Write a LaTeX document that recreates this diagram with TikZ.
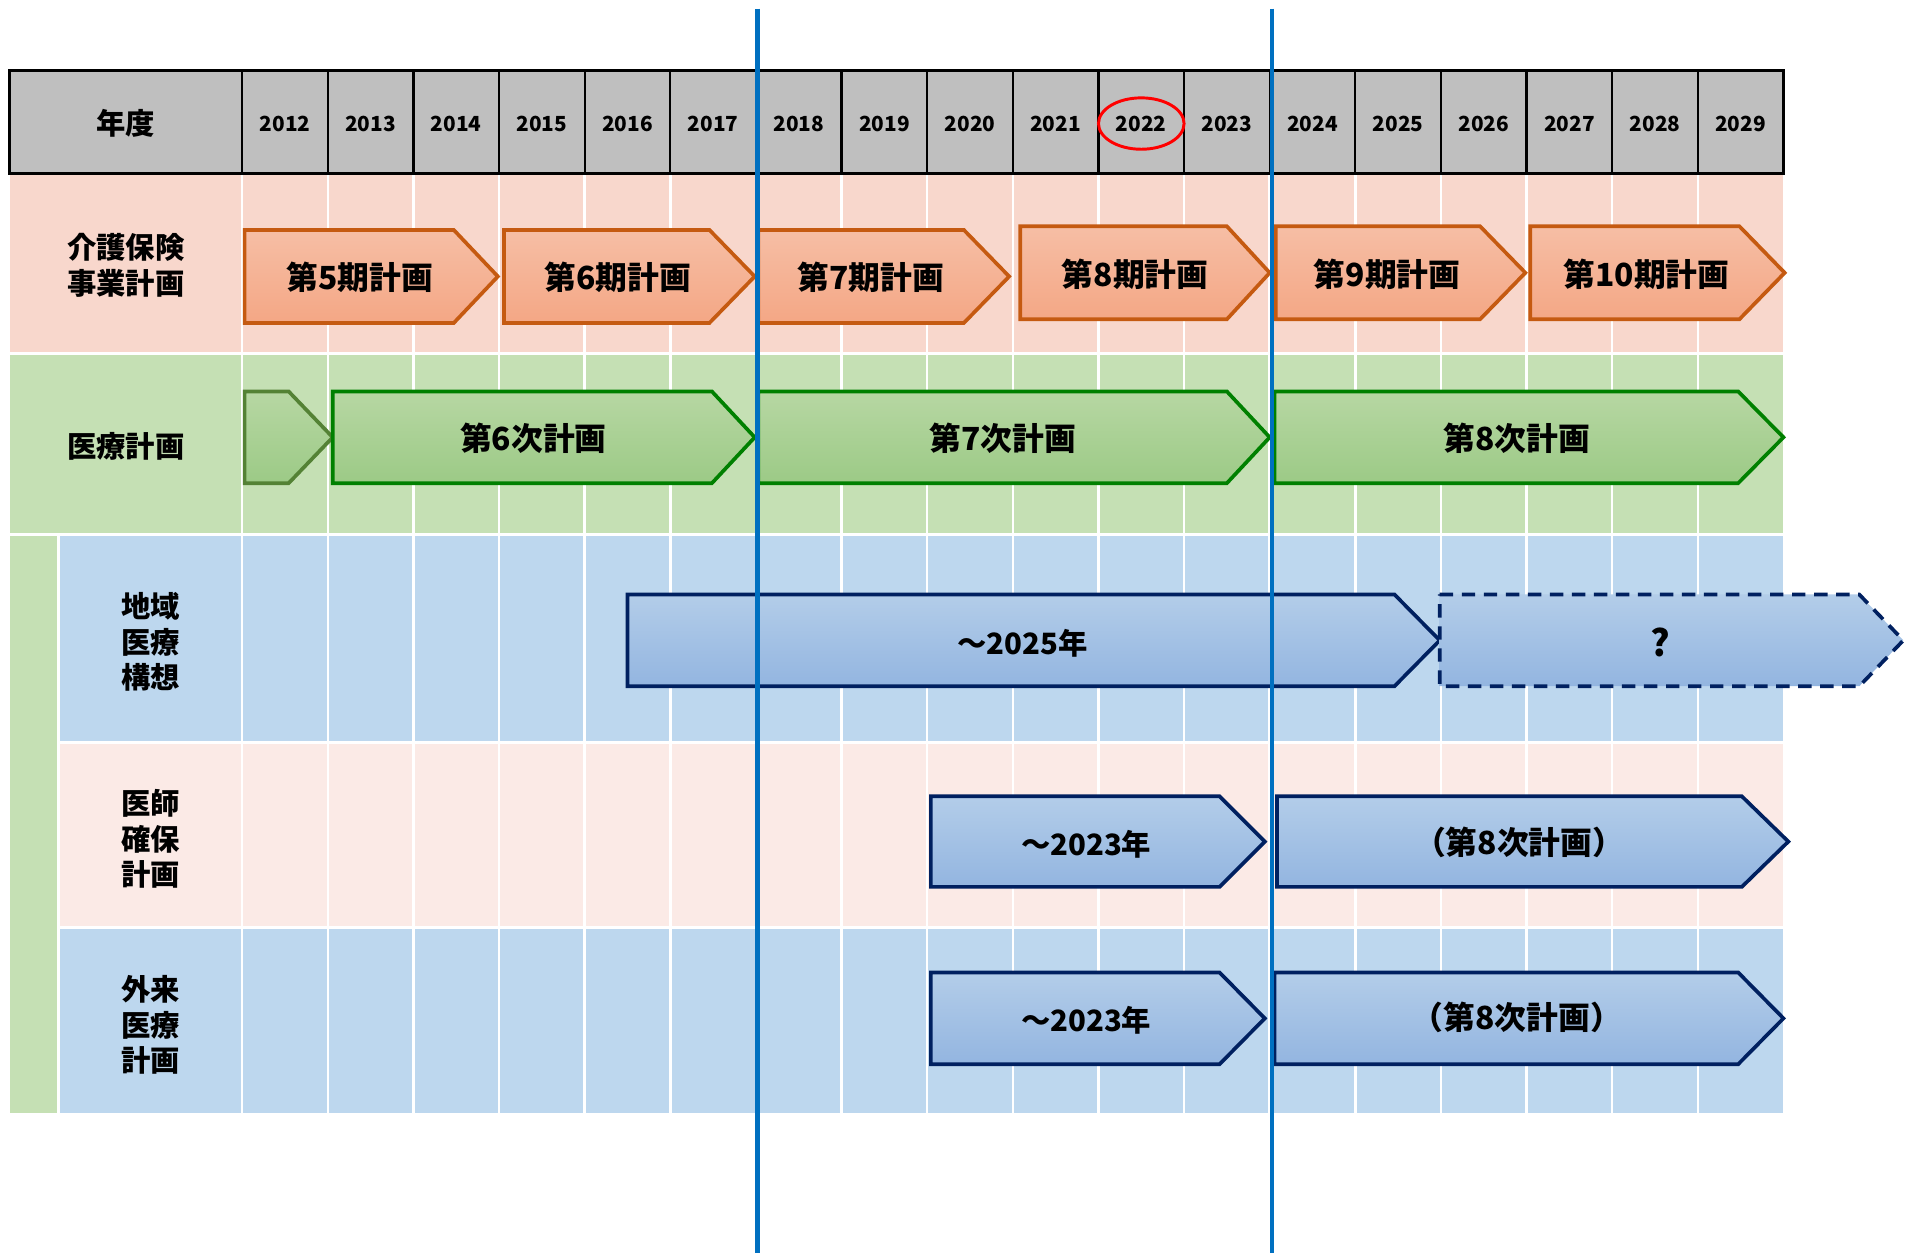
\documentclass[tikz,border=0pt]{standalone}
\usepackage{fontspec}
\setmainfont{Noto Sans CJK JP}
\usetikzlibrary{calc}
\definecolor{hdrgray}{HTML}{BFBFBF}
\definecolor{rowpink}{HTML}{F8D7CC}
\definecolor{rowgreen}{HTML}{C5E0B4}
\definecolor{rowblue}{HTML}{BDD7EE}
\definecolor{rowlpink}{HTML}{FBEAE6}
\definecolor{orgtop}{HTML}{F6BEA5}
\definecolor{orgbot}{HTML}{F4A785}
\definecolor{orgline}{HTML}{C55A11}
\definecolor{grntop}{HTML}{B7D7A3}
\definecolor{grnbot}{HTML}{9CCA86}
\definecolor{grnline}{HTML}{008000}
\definecolor{grnline2}{HTML}{548235}
\definecolor{blutop}{HTML}{B3CDE9}
\definecolor{blubot}{HTML}{93B5E0}
\definecolor{bluline}{HTML}{002060}
\definecolor{vline}{HTML}{0070C0}
\newcommand\penta[6]{\path[#1] (#2,#5) -- (#3,#5) -- (#4,{(#5+#6)/2}) -- (#3,#6) -- (#2,#6) -- cycle;}
\begin{document}
\begin{tikzpicture}[x=0.5pt,y=-0.5pt,
  gridline/.style={white,line width=1pt},
  hdrline/.style={black,line width=0.9pt},
  yearlbl/.style={font=\fontsize{8.5}{10}\selectfont\bfseries},
  rowlbl/.style={font=\fontsize{12}{14.5}\selectfont\bfseries,align=center},
  arrlbl/.style={font=\fontsize{13}{15}\selectfont\bfseries},
  barlbl/.style={font=\fontsize{12}{14}\selectfont\bfseries},
  qlbl/.style={font=\fontsize{15}{17}\selectfont\bfseries},
  orgarrow/.style={draw=orgline,line width=1.5pt,top color=orgtop,bottom color=orgbot},
  grnarrow/.style={draw=grnline,line width=1.5pt,top color=grntop,bottom color=grnbot},
  grnarrowB/.style={draw=grnline2,line width=1.5pt,top color=grntop,bottom color=grnbot},
  bluarrow/.style={draw=bluline,line width=1.5pt,top color=blutop,bottom color=blubot},
  bludash/.style={bluarrow,dash pattern=on 5.5pt off 3.5pt},
  divider/.style={vline,line width=1.9pt}]
\useasboundingbox (0,0) rectangle (1568,1024);
% row backgrounds
\fill[rowpink] (8,142) rectangle (1458,289);
\fill[rowgreen] (8,289) rectangle (1458,437);
\fill[rowgreen] (8,437) rectangle (48,910);
\fill[rowblue] (48,437) rectangle (1458,607);
\fill[rowlpink] (48,607) rectangle (1458,758);
\fill[rowblue] (48,758) rectangle (1458,910);
% white grid
\foreach \i in {0,...,17} \draw[gridline] (198+70*\i,142) -- (198+70*\i,910);
\foreach \yy in {289,437} \draw[gridline,line width=1.2pt] (8,\yy) -- (1458,\yy);
\foreach \yy in {607,758} \draw[gridline,line width=1.2pt] (48,\yy) -- (1458,\yy);
\draw[gridline,line width=1.2pt] (48,437) -- (48,910);
% header
\fill[hdrgray] (8,58) rectangle (1458,142);
\foreach \i in {0,...,17} \draw[hdrline] (198+70*\i,58) -- (198+70*\i,142);
\draw[black,line width=1.2pt] (8,58) rectangle (1458,142);
\node[rowlbl] (nendo) at (103,101) {年度};
\foreach \i in {0,...,17} {
  \pgfmathtruncatemacro\yr{2012+\i}
  \node[yearlbl] (yr\i) at (233+70*\i,101) {\yr};
}
\draw[red,line width=1.2pt] (933,101) ellipse [x radius=35, y radius=21];
% row labels
\node[rowlbl] (kaigo) at (103,217) {介護保険\\事業計画};
\node[rowlbl] (iryo) at (103,365) {医療計画};
\node[rowlbl] (chiiki) at (123,525) {地域\\医療\\構想};
\node[rowlbl] (ishi) at (123,686) {医師\\確保\\計画};
\node[rowlbl] (gairai) at (123,838) {外来\\医療\\計画};
% row 1 arrows
\penta{orgarrow}{200}{371}{407}{188}{264}
\penta{orgarrow}{412}{580}{617}{188}{264}
\penta{orgarrow}{620}{788}{825}{188}{264}
\penta{orgarrow}{834}{1003}{1038}{185}{261}
\penta{orgarrow}{1043}{1210}{1247}{185}{261}
\penta{orgarrow}{1251}{1422}{1459}{185}{261}
\node[arrlbl] (k5) at (294,227) {第5期計画};
\node[arrlbl] (k6) at (505,227) {第6期計画};
\node[arrlbl] (k7) at (712,227) {第7期計画};
\node[arrlbl] (k8) at (928,224) {第8期計画};
\node[arrlbl] (k9) at (1134,224) {第9期計画};
\node[arrlbl] (k10) at (1346,224) {第10期計画};
% row 2 arrows
\penta{grnarrowB}{200}{236}{272}{320}{395}
\penta{grnarrow}{272}{582}{617}{320}{395}
\penta{grnarrow}{620}{1003}{1038}{320}{395}
\penta{grnarrow}{1042}{1421}{1458}{320}{395}
\node[arrlbl] (j6) at (436,358) {第6次計画};
\node[arrlbl] (j7) at (820,358) {第7次計画};
\node[arrlbl] (j8) at (1240,358) {第8次計画};
% row 3
\penta{bluarrow}{513}{1140}{1177}{486}{561}
\penta{bludash}{1177}{1520}{1556}{486}{561}
\node[barlbl] (c2025) at (836,526) {～2025年};
\node[qlbl] (cq) at (1357,525) {?};
% row 4
\penta{bluarrow}{761}{997}{1034}{651}{725}
\penta{bluarrow}{1044}{1424}{1462}{651}{725}
\node[barlbl] (d2023) at (888,690) {～2023年};
\node[arrlbl] (d8) at (1242,689) {（第8次計画）};
% row 5
\penta{bluarrow}{761}{997}{1034}{795}{870}
\penta{bluarrow}{1042}{1421}{1458}{795}{870}
\node[barlbl] (g2023) at (888,834) {～2023年};
\node[arrlbl] (g8) at (1240,832) {（第8次計画）};
% divider lines
\draw[divider] (619,7) -- (619,1024);
\draw[divider] (1040,7) -- (1040,1024);
\end{tikzpicture}
\end{document}
